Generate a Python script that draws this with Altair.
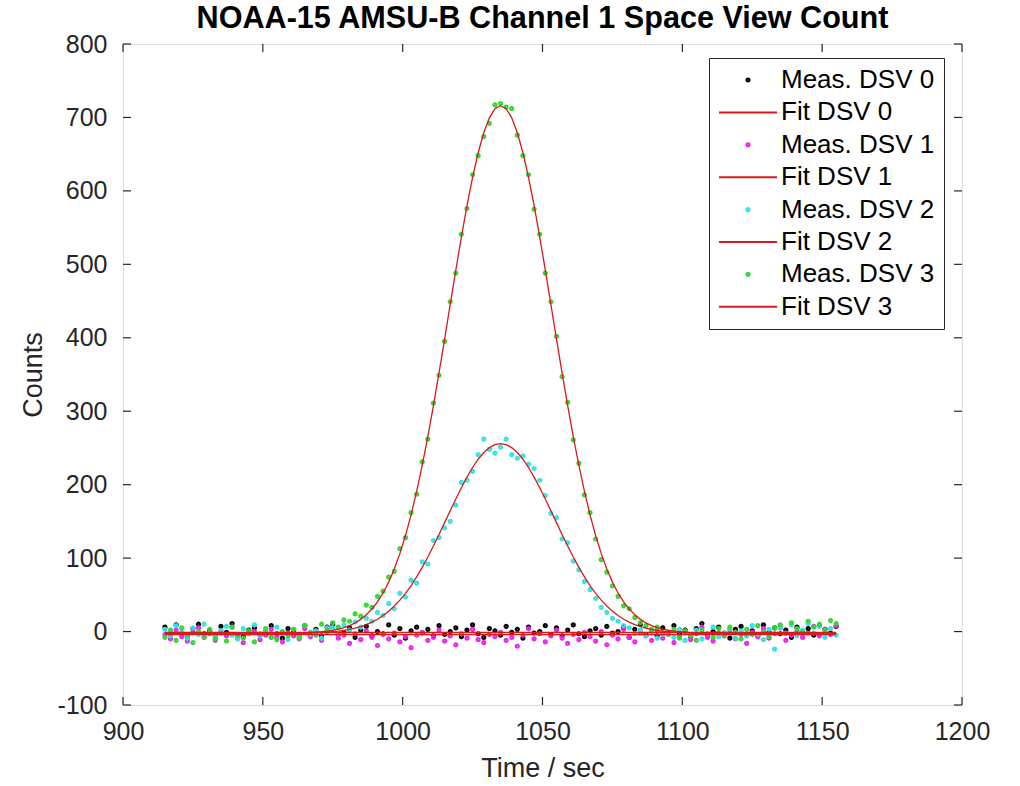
import altair as alt
import pandas as pd

# ---------------- data ----------------
series_names = ["Meas. DSV 0", "Fit DSV 0", "Meas. DSV 1", "Fit DSV 1",
                "Meas. DSV 2", "Fit DSV 2", "Meas. DSV 3", "Fit DSV 3"]
series_colors = ["#000000", "#d81a1a", "#ee22ee", "#d81a1a",
                 "#33e3e3", "#d81a1a", "#33d633", "#d81a1a"]

t_meas = list(range(915, 1157, 2))

meas_dsv0 = [6, -4, 9, -2, -8, 4, 10, -3, 1, -6,
             7, -1, 11, -4, -7, 2, 5, -5, 0, 8,
             -3, -9, 4, 1, -5, 8, -2, 3, -6, 6,
             10, -4, -1, 5, -8, 2, 7, -6, 0, -3,
             9, -5, 4, -9, 1, 6, -2, 3, -6, 8,
             -4, 0, 5, -7, 2, 9, -3, -8, 4, 1,
             -5, 7, -1, 3, -9, 6, -2, 0, 8, -4,
             5, -6, 2, 9, -3, -7, 1, 4, -5, 7,
             -2, 0, 6, -8, 3, 10, -4, 1, -6, 5,
             -1, 8, -3, 2, -7, 4, 11, -5, 0, 6,
             -2, -9, 3, 7, -4, 1, -6, 9, -1, 5,
             -3, 2, -8, 6, 0, 4, -5, 8, 3, -2,
             7]

meas_dsv1 = [-4, -10, 2, -7, -13, -1, 5, -8, -3, -12,
             1, -6, 6, -9, -15, -3, 0, -11, -5, 3,
             -8, -14, -2, -6, -10, 4, -7, -1, -12, 0,
             5, -9, -5, -16, -3, -11, 1, -8, -19, -4,
             -10, -2, -14, -7, -22, -5, -1, -12, -8, 2,
             -13, -6, -18, -3, -9, 3, -11, -15, -4, -7,
             -1, -12, -8, -20, -5, 4, -10, -3, -14, -6,
             2, -9, -16, -4, -11, -1, -7, -13, 0, -18,
             -5, -10, 3, -8, -14, -2, -6, -12, 1, -9,
             -4, -15, -7, 0, -11, -3, 6, -8, -13, -2,
             -6, 2, -10, -4, -16, -1, -7, 4, -9, -3,
             5, -12, -5, 1, -8, -2, 7, -6, 3, -4,
             8]

meas_dsv2 = [3, -6, 8, -1, -9, 5, -4, 10, -2, -7,
             1, 7, -5, -10, 4, -3, 9, -6, 0, -8,
             6, -2, -11, 3, -7, 8, -4, 1, -9, 5,
             5, -3, 9, 2, 13, 6, 18, 14, 26, 22,
             38, 31, 52, 47, 70, 66, 95, 92, 124, 128,
             141, 150, 172, 203, 206, 218, 241, 262, 248, 243,
             251, 262, 241, 236, 239, 228, 222, 206, 185, 161,
             155, 126, 121, 96, 84, 68, 57, 45, 33, 26,
             18, 14, 8, 5, -3, 2, -6, 1, -9, -4,
             0, -8, 3, -12, -5, 2, -10, -3, 6, -7,
             -2, 4, -9, 1, -6, 8, -4, -11, 3, -24,
             5, -3, 9, -6, 2, 11, -2, 7, -8, 4,
             -5]

meas_dsv3 = [-8, 2, -12, 5, -4, -15, 0, -7, 3, -10,
             -2, -13, 6, -5, -9, 1, -14, -3, 4, -8,
             -11, 0, -6, 3, -9, 8, -1, -5, 10, 2,
             12, 6, 16, 14, 24, 21, 36, 33, 48, 55,
             74, 82, 113, 128, 162, 187, 231, 262, 311, 349,
             395, 449, 488, 541, 576, 622, 648, 674, 692, 717,
             719, 714, 712, 676, 648, 622, 575, 541, 488, 449,
             402, 347, 312, 261, 229, 186, 162, 126, 98, 81,
             62, 48, 35, 31, 19, 12, 8, 3, 6, -2,
             -4, 3, -9, 1, -6, -12, 2, -3, -8, 4,
             -5, 6, -1, -10, 3, -4, 8, 0, -7, 5,
             9, -2, 12, 4, -1, 14, 6, 10, 2, 15,
             11]

t_fit_flat = [915, 1155]
fit_dsv0 = [-1, -1]
fit_dsv1 = [-4, -4]

t_fit = list(range(915, 1157, 2))

fit_dsv2 = [-2, -2, -2, -2, -2, -2, -2, -2, -2, -2,
            -2, -2, -2, -2, -2, -2, -2, -2, -2, -2,
            -2, -2, -2, -2, -2, -2, -1.5, -1.3, -1.0, -0.6,
            0.0, 0.7, 1.7, 3.0, 4.7, 6.8, 9.5, 12.8, 16.8, 21.8,
            27.7, 34.7, 42.8, 52.1, 62.6, 74.4, 87.4, 101.5, 116.5, 132.2,
            148.3, 164.5, 180.5, 195.9, 210.3, 223.4, 234.6, 243.8, 250.5, 254.6,
            256.0, 254.6, 250.5, 243.8, 234.6, 223.4, 210.3, 195.9, 180.5, 164.5,
            148.3, 132.2, 116.5, 101.5, 87.4, 74.4, 62.6, 52.1, 42.8, 34.7,
            27.7, 21.8, 16.8, 12.8, 9.5, 6.8, 4.7, 3.0, 1.7, 0.7,
            0.0, -0.6, -1.0, -1.3, -1.5, -2, -2, -2, -2, -2,
            -2, -2, -2, -2, -2, -2, -2, -2, -2, -2,
            -2, -2, -2, -2, -2, -2, -2, -2, -2, -2,
            -2]

fit_dsv3 = [-2, -2, -2, -2, -2, -2, -2, -2, -2, -2,
            -2, -2, -2, -2, -2, -2, -2, -2, -2, -2,
            -2, -2, -2, -2, -2, -2, -2, -0.8, -0.2, 0.6,
            1.7, 3.3, 5.3, 8.1, 11.8, 16.6, 22.8, 30.7, 40.5, 52.6,
            67.3, 85.1, 106.1, 130.7, 158.9, 190.9, 226.5, 265.5, 307.6, 352.1,
            398.3, 445.4, 492.1, 537.3, 579.8, 618.4, 651.9, 679.2, 699.4, 711.8,
            716.0, 711.8, 699.4, 679.2, 651.9, 618.4, 579.8, 537.3, 492.1, 445.4,
            398.3, 352.1, 307.6, 265.5, 226.5, 190.9, 158.9, 130.7, 106.1, 85.1,
            67.3, 52.6, 40.5, 30.7, 22.8, 16.6, 11.8, 8.1, 5.3, 3.3,
            1.7, 0.6, -0.2, -0.8, -2, -2, -2, -2, -2, -2,
            -2, -2, -2, -2, -2, -2, -2, -2, -2, -2,
            -2, -2, -2, -2, -2, -2, -2, -2, -2, -2,
            -2]

x_ticks = [900, 950, 1000, 1050, 1100, 1150, 1200]
y_ticks = [-100, 0, 100, 200, 300, 400, 500, 600, 700, 800]

# ---------------- tables ----------------
meas_rows = []
for name, vals in [("Meas. DSV 0", meas_dsv0), ("Meas. DSV 1", meas_dsv1),
                   ("Meas. DSV 2", meas_dsv2), ("Meas. DSV 3", meas_dsv3)]:
    for t, v in zip(t_meas, vals):
        meas_rows.append({"t": t, "value": v, "series": name})
meas_df = pd.DataFrame(meas_rows)

fit_rows = []
for name, ts, vals in [("Fit DSV 0", t_fit_flat, fit_dsv0), ("Fit DSV 1", t_fit_flat, fit_dsv1),
                       ("Fit DSV 2", t_fit, fit_dsv2), ("Fit DSV 3", t_fit, fit_dsv3)]:
    for t, v in zip(ts, vals):
        fit_rows.append({"t": t, "value": v, "series": name})
fit_df = pd.DataFrame(fit_rows)

xt_df = pd.DataFrame({"t": x_ticks})
yt_df = pd.DataFrame({"value": y_ticks})

# ---------------- styling ----------------
W, H = 839, 661
FONT = "Liberation Sans"
TXT = "#262626"
# small solid dot drawn as two concentric stroked circles (so it reads as filled)
dot_path = ("M-0.055,0A0.055,0.055 0 1,0 0.055,0A0.055,0.055 0 1,0 -0.055,0Z"
            "M-0.02,0A0.02,0.02 0 1,0 0.02,0A0.02,0.02 0 1,0 -0.02,0Z")
line_path = "M-1,0L1,0"
shapes = [dot_path, line_path] * 4

xscale = alt.Scale(domain=[900, 1200], nice=False, zero=False)
yscale = alt.Scale(domain=[-100, 800], nice=False, zero=False)
cscale = alt.Scale(domain=series_names, range=series_colors)
sscale = alt.Scale(domain=series_names, range=shapes)

x_axis = alt.Axis(values=x_ticks, title="Time / sec", grid=False, domain=False, ticks=False,
                  labelExpr="'' + datum.value", labelFlush=False,
                  labelFont=FONT, labelFontSize=25, labelColor=TXT, labelPadding=14,
                  titleFont=FONT, titleFontSize=27, titleFontWeight="normal", titleColor=TXT,
                  titlePadding=11)
y_axis = alt.Axis(values=y_ticks, title="Counts", grid=False, domain=False, ticks=False,
                  labelExpr="'' + datum.value", labelFlush=False,
                  labelFont=FONT, labelFontSize=25, labelColor=TXT, labelPadding=16,
                  titleFont=FONT, titleFontSize=27, titleFontWeight="normal", titleColor=TXT,
                  titlePadding=9)

legend = alt.Legend(title=None, orient="none", legendX=586, legendY=14,
                    strokeColor=TXT, fillColor="white", padding=9,
                    labelFont=FONT, labelFontSize=26, labelColor="black", labelOffset=3,
                    symbolSize=3364, symbolStrokeWidth=2, clipHeight=26, rowPadding=6.4,
                    labelLimit=400)

points = alt.Chart(meas_df).mark_point(filled=False, size=3364, strokeWidth=2, opacity=1).encode(
    x=alt.X("t:Q", scale=xscale, axis=x_axis),
    y=alt.Y("value:Q", scale=yscale, axis=y_axis),
    color=alt.Color("series:N", scale=cscale, legend=legend),
    shape=alt.Shape("series:N", scale=sscale, legend=legend),
)

lines = alt.Chart(fit_df).mark_line(strokeWidth=1.3).encode(
    x=alt.X("t:Q", scale=xscale, axis=x_axis),
    y=alt.Y("value:Q", scale=yscale, axis=y_axis),
    color=alt.Color("series:N", scale=cscale, legend=None),
    detail="series:N",
)

tick_color = TXT
left_ticks = alt.Chart(yt_df).mark_rule(color=tick_color, strokeWidth=1.2).encode(
    y=alt.Y("value:Q", scale=yscale, axis=y_axis), x=alt.value(0), x2=alt.value(8))
right_ticks = alt.Chart(yt_df).mark_rule(color=tick_color, strokeWidth=1.2).encode(
    y=alt.Y("value:Q", scale=yscale, axis=y_axis), x=alt.value(W - 8), x2=alt.value(W))
bottom_ticks = alt.Chart(xt_df).mark_rule(color=tick_color, strokeWidth=1.2).encode(
    x=alt.X("t:Q", scale=xscale, axis=x_axis), y=alt.value(H - 8), y2=alt.value(H))
top_ticks = alt.Chart(xt_df).mark_rule(color=tick_color, strokeWidth=1.2).encode(
    x=alt.X("t:Q", scale=xscale, axis=x_axis), y=alt.value(0), y2=alt.value(8))

chart = alt.layer(points, lines, left_ticks, right_ticks, bottom_ticks, top_ticks).properties(
    width=W, height=H,
    title=alt.TitleParams("NOAA-15 AMSU-B Channel 1 Space View Count", font=FONT, fontSize=30.6,
                          fontWeight="bold", color="black", anchor="middle", frame="group",
                          offset=9, dy=12),
    autosize=alt.AutoSizeParams(type="none"),
    padding={"left": 123, "top": 44, "right": 58, "bottom": 81},
).configure_view(stroke=TXT, strokeWidth=1.3).configure(background="white")

chart.save("out.html", embed_options={"renderer": "svg", "actions": False})
